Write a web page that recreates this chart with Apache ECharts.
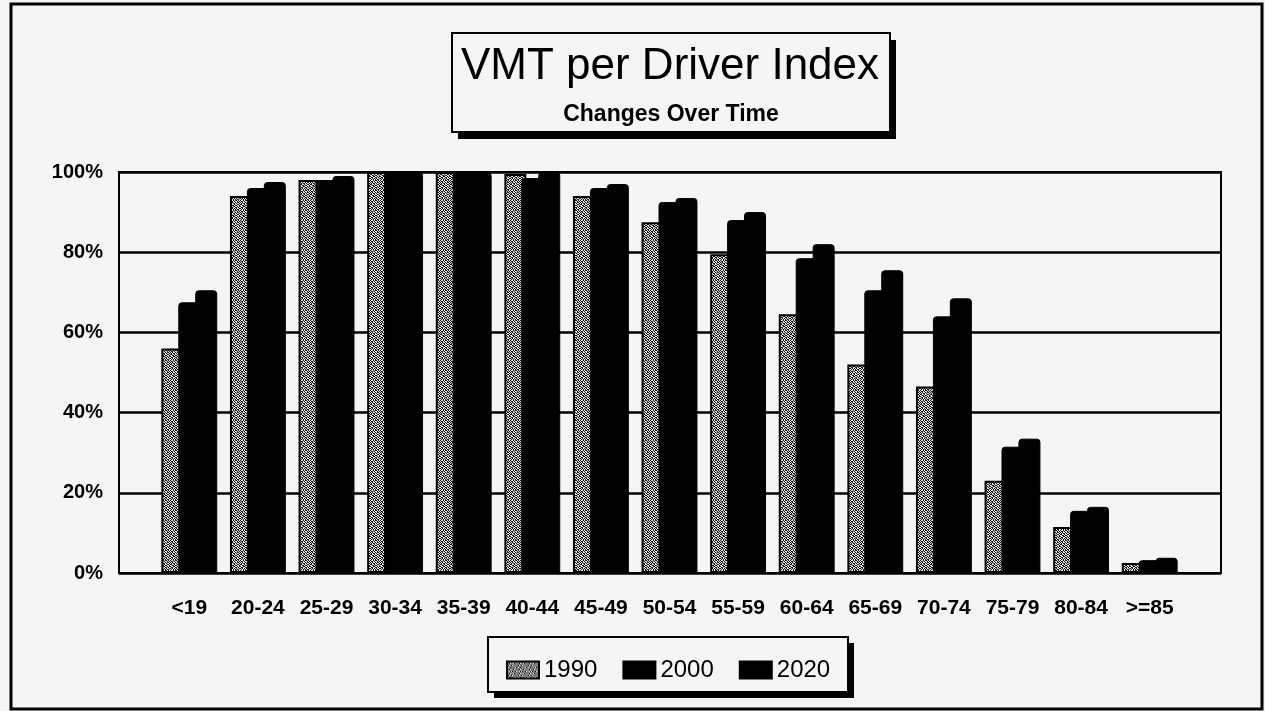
<!DOCTYPE html>
<html>
<head>
<meta charset="utf-8">
<title>VMT per Driver Index</title>
<script src="https://cdn.jsdelivr.net/npm/echarts@6/dist/echarts.min.js"></script>
<style>
html, body { margin: 0; padding: 0; background: #f5f5f5; }
#main { width: 1265px; height: 711px; }
</style>
</head>
<body>
<div id="main"></div>
<script>
// data
const categories = ['<19', '20-24', '25-29', '30-34', '35-39', '40-44', '45-49', '50-54',
  '55-59', '60-64', '65-69', '70-74', '75-79', '80-84', '>=85'];
const v1990 = [56, 94, 98, 100, 100, 99.5, 94, 87.5, 79.5, 64.5, 52, 46.5, 23, 11.5, 2.5];
const v2000 = [67.5, 96, 98, 100, 100, 98.5, 96, 92.5, 88, 78.5, 70.5, 64, 31.5, 15.5, 3.2];
const v2020 = [70.5, 97.5, 99, 100, 100, 100, 97, 93.5, 90, 82, 75.5, 68.5, 33.5, 16.5, 3.8];
const yTicks = [0, 20, 40, 60, 80, 100];

const FONT = "'Liberation Sans', Arial, sans-serif";

// stipple fill for the 1990 bars (scanned grey dots)
function stipple() {
  const mask = [
    '1001011010',
    '0110100101',
    '1010010110',
    '0101101001',
    '1100100110',
    '0011011001',
    '1001100101',
    '0110011010',
    '1010101001',
    '0101010110'
  ];
  const c = document.createElement('canvas');
  c.width = 10; c.height = 10;
  const ctx = c.getContext('2d');
  ctx.fillStyle = '#e6e6e6';
  ctx.fillRect(0, 0, 10, 10);
  ctx.fillStyle = '#111';
  mask.forEach((row, y) => {
    for (let x = 0; x < row.length; x++) {
      if (row[x] === '1') ctx.fillRect(x, y, 1, 1);
    }
  });
  return c;
}

let myChart = echarts.init(document.getElementById('main'));

const barCommon = {
  type: 'bar',
  xAxisIndex: 1,
  yAxisIndex: 1,
  barWidth: 22,
  barGap: '-23%',
  animation: false
};

const option = {
  backgroundColor: '#f5f5f5',
  animation: false,
  grid: [
    // full plot frame with gridlines
    { left: 119, right: 44, top: 172, bottom: 138, show: true, borderColor: '#000', borderWidth: 2 },
    // inner area where the categories sit
    { left: 155, right: 81, top: 172, bottom: 138 }
  ],
  xAxis: [
    { gridIndex: 0, type: 'value', min: 0, max: 1, show: false },
    {
      gridIndex: 1,
      type: 'category',
      data: categories,
      axisLine: { show: false },
      axisTick: { show: false },
      axisLabel: { color: '#000', fontSize: 21, fontWeight: 'bold', fontFamily: FONT, margin: 25, interval: 0 }
    }
  ],
  yAxis: [
    {
      gridIndex: 0,
      type: 'value',
      min: yTicks[0],
      max: yTicks[yTicks.length - 1],
      interval: 20,
      axisLine: { show: false },
      axisTick: { show: false },
      axisLabel: { color: '#000', fontSize: 20, fontWeight: 'bold', fontFamily: FONT, margin: 16, formatter: '{value}%' },
      splitLine: { show: true, lineStyle: { color: '#000', width: 2.5 } }
    },
    { gridIndex: 1, type: 'value', min: 0, max: 100, show: false, splitLine: { show: false } }
  ],
  legend: {
    left: 501,
    top: 653,
    itemWidth: 32,
    itemHeight: 17,
    itemGap: 25,
    icon: 'rect',
    textStyle: { color: '#000', fontSize: 24, fontFamily: FONT },
    data: ['1990', '2000', '2020']
  },
  graphic: [
    // outer frame
    { type: 'rect', shape: { x: 11, y: 4, width: 1251, height: 705 }, style: { fill: 'none', stroke: '#000', lineWidth: 3 }, z: 0 },
    // title box with shadow
    { type: 'rect', shape: { x: 458, y: 40, width: 438, height: 99 }, style: { fill: '#000' }, z: 0 },
    { type: 'rect', shape: { x: 452, y: 33, width: 438, height: 99 }, style: { fill: '#f5f5f5', stroke: '#000', lineWidth: 2 }, z: 1 },
    { type: 'text', x: 670, y: 67, z: 2, style: { text: 'VMT per Driver Index', font: '44px ' + FONT, fill: '#000', align: 'center', verticalAlign: 'middle' } },
    { type: 'text', x: 671, y: 115, z: 2, style: { text: 'Changes Over Time', font: 'bold 23px ' + FONT, fill: '#000', align: 'center', verticalAlign: 'middle' } },
    // legend box with shadow
    { type: 'rect', shape: { x: 494, y: 643, width: 360, height: 55 }, style: { fill: '#000' }, z: 0 },
    { type: 'rect', shape: { x: 488, y: 637, width: 360, height: 55 }, style: { fill: '#f5f5f5', stroke: '#000', lineWidth: 2 }, z: 1 }
  ],
  series: [
    Object.assign({}, barCommon, {
      name: '1990',
      data: v1990,
      itemStyle: { color: { image: stipple(), repeat: 'repeat' }, borderColor: '#000', borderWidth: 2 }
    }),
    Object.assign({}, barCommon, {
      name: '2000',
      data: v2000,
      itemStyle: { color: '#000', borderColor: '#000', borderWidth: 1, borderRadius: [3, 3, 0, 0] }
    }),
    Object.assign({}, barCommon, {
      name: '2020',
      data: v2020,
      itemStyle: { color: '#000', borderColor: '#000', borderWidth: 1, borderRadius: [3, 3, 0, 0] }
    })
  ]
};

myChart.setOption(option);
</script>
</body>
</html>
